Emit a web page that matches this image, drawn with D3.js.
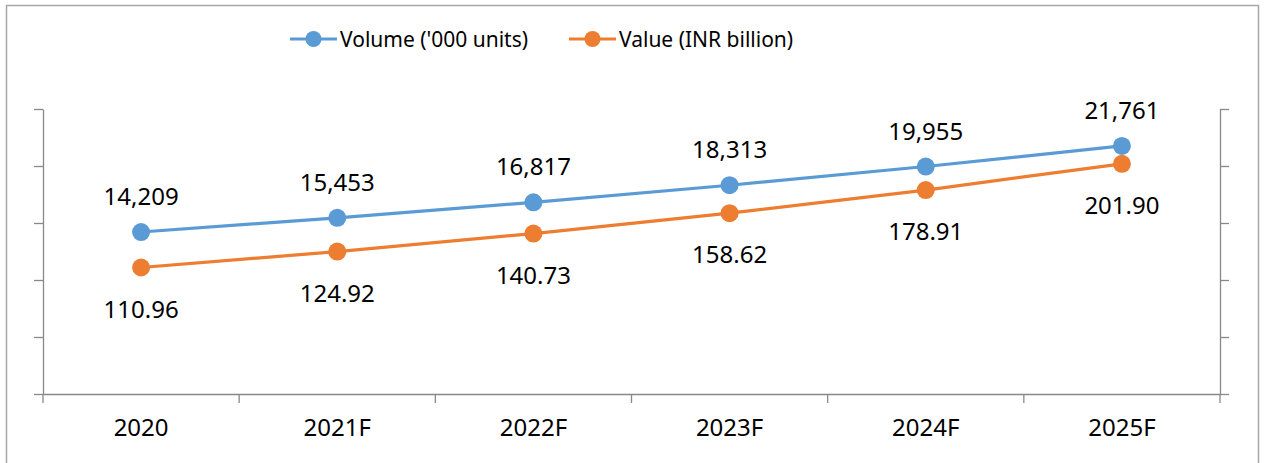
<!DOCTYPE html>
<html>
<head>
<meta charset="utf-8">
<script src="https://cdn.jsdelivr.net/npm/d3@7"></script>
<style>
  body { margin: 0; background: #fff; }
  svg text { font-family: "Noto Sans", "Open Sans", sans-serif; fill: #000; }
</style>
</head>
<body>
<svg id="chart" width="1264" height="463"></svg>
<script>
// chart data
var years = ["2020", "2021F", "2022F", "2023F", "2024F", "2025F"];
var volume = [14209, 15453, 16817, 18313, 19955, 21761];   // '000 units (left axis)
var value = [110.96, 124.92, 140.73, 158.62, 178.91, 201.90]; // INR billion (right axis)
var volumeTicks = [0, 5000, 10000, 15000, 20000, 25000];
var valueTicks = [0, 50, 100, 150, 200, 250];
var seriesNames = ["Volume ('000 units)", "Value (INR billion)"];

var blue = "#5b9bd5", orange = "#ed7d31", axisCol = "#898989";

var svg = d3.select("#chart");

// outer chart border
svg.append("rect")
  .attr("x", 6.5).attr("y", 5.5)
  .attr("width", 1252).attr("height", 470)
  .attr("fill", "none").attr("stroke", "#a6a6a6").attr("stroke-width", 1.5);

var plot = { left: 43, right: 1220, top: 109, bottom: 394 };

var x = d3.scaleBand().domain(years).range([plot.left, plot.right]).paddingInner(0).paddingOuter(0);
var yL = d3.scaleLinear().domain([0, 25000]).range([plot.bottom, plot.top]);
var yR = d3.scaleLinear().domain([0, 250]).range([plot.bottom, plot.top]);

// left axis (no labels)
svg.append("g")
  .attr("transform", `translate(${plot.left},0)`)
  .call(d3.axisLeft(yL).tickValues(volumeTicks).tickFormat("").tickSize(9).tickSizeOuter(0))
  .call(g => g.selectAll("path, line").attr("stroke", axisCol).attr("stroke-width", 1.3));

// right axis
svg.append("g")
  .attr("transform", `translate(${plot.right},0)`)
  .call(d3.axisRight(yR).tickValues(valueTicks).tickFormat("").tickSize(9).tickSizeOuter(0))
  .call(g => g.selectAll("path, line").attr("stroke", axisCol).attr("stroke-width", 1.3));

// x axis: labels centred in bands, ticks on band edges
var xg = svg.append("g").attr("transform", `translate(0,${plot.bottom})`);
xg.call(d3.axisBottom(x).tickSize(0).tickSizeOuter(0).tickPadding(25))
  .call(g => g.select(".domain").attr("stroke", axisCol).attr("stroke-width", 1.3))
  .call(g => g.selectAll("text").attr("font-size", 24));
var edges = years.map(d => x(d)).concat([x.range()[1]]);
xg.selectAll("line.edge")
  .data(edges)
  .enter().append("line")
  .attr("class", "edge")
  .attr("x1", d => d).attr("x2", d => d)
  .attr("y1", 0).attr("y2", 9)
  .attr("stroke", axisCol).attr("stroke-width", 1.3);

var cx = d => x(d) + x.bandwidth() / 2;

function drawSeries(vals, scale, color, fmt, dy) {
  var pts = years.map((d, i) => ({ yr: d, v: vals[i] }));
  var line = d3.line().x(d => cx(d.yr)).y(d => scale(d.v));
  svg.append("path")
    .datum(pts)
    .attr("d", line)
    .attr("fill", "none")
    .attr("stroke", color)
    .attr("stroke-width", 3.2);
  svg.append("g").selectAll("circle")
    .data(pts)
    .enter().append("circle")
    .attr("cx", d => cx(d.yr))
    .attr("cy", d => scale(d.v))
    .attr("r", 9)
    .attr("fill", color);
  svg.append("g").selectAll("text")
    .data(pts)
    .enter().append("text")
    .attr("x", d => cx(d.yr))
    .attr("y", d => scale(d.v) + dy)
    .attr("text-anchor", "middle")
    .attr("font-size", 24)
    .text(d => fmt(d.v));
}

drawSeries(volume, yL, blue, d3.format(",.0f"), -27);
drawSeries(value, yR, orange, d3.format(".2f"), 50);

// legend
var legend = svg.append("g");
var legItems = [
  { name: seriesNames[0], color: blue, x: 290 },
  { name: seriesNames[1], color: orange, x: 569 }
];
legItems.forEach(function (it) {
  legend.append("line")
    .attr("x1", it.x).attr("x2", it.x + 47)
    .attr("y1", 39).attr("y2", 39)
    .attr("stroke", it.color).attr("stroke-width", 3.2);
  legend.append("circle")
    .attr("cx", it.x + 23.5).attr("cy", 39).attr("r", 8)
    .attr("fill", it.color);
  legend.append("text")
    .attr("x", it.x + 50).attr("y", 47)
    .attr("font-size", 21)
    .text(it.name);
});
</script>
</body>
</html>
